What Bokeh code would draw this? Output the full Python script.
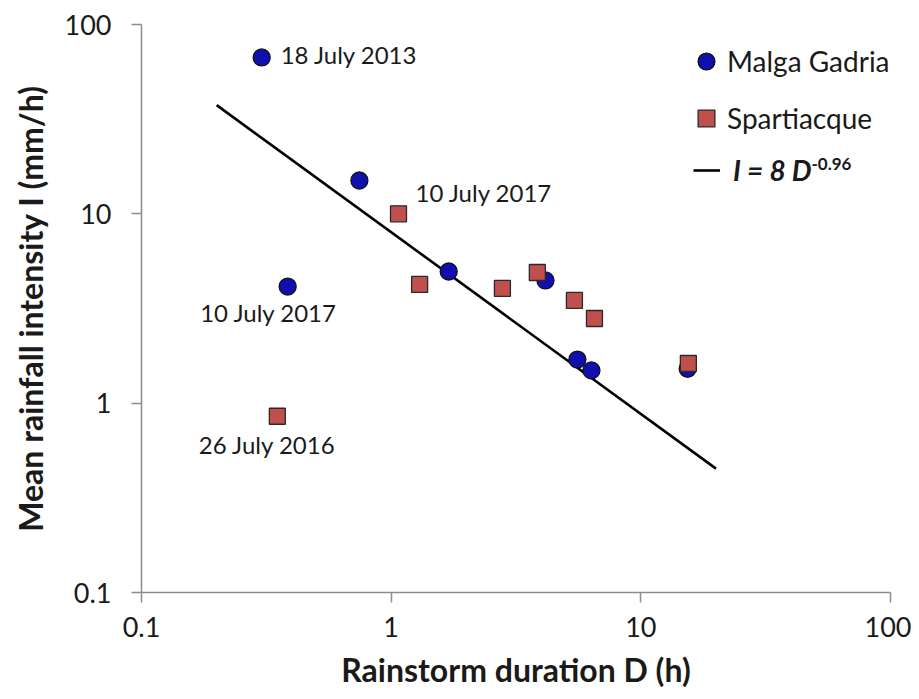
from bokeh.plotting import figure
from bokeh.models import (Legend, LegendItem, Label, FixedTicker, ColumnDataSource,
                          CustomJSTickFormatter, Range1d)
from bokeh.embed import file_html
from bokeh.resources import INLINE
from bokeh.core.properties import value

# ---------------- data ----------------
gadria_d = [0.303, 0.746, 0.385, 1.70, 4.15, 5.57, 6.34, 15.4]
gadria_i = [67.0, 15.0, 4.13, 4.96, 4.45, 1.70, 1.49, 1.52]
spart_d = [0.350, 1.07, 1.30, 2.79, 3.85, 5.42, 6.52, 15.5]
spart_i = [0.853, 10.0, 4.24, 4.04, 4.90, 3.49, 2.80, 1.62]
fit_d = [0.2, 20.0]
fit_i = [37.5, 0.451]
x_ticks = [0.1, 1, 10, 100]
y_ticks = [0.1, 1, 10, 100]
event_text = ["18 July 2013", "10 July 2017", "10 July 2017", "26 July 2016"]
event_d = [0.303, 1.07, 0.385, 0.350]
event_i = [67.0, 10.0, 4.13, 0.853]
series_names = ["Malga Gadria", "Spartiacque"]
fit_label = "I = 8 D"
fit_exponent = "-0.96"
x_title = "Rainstorm duration D (h)"
y_title = "Mean rainfall intensity I (mm/h)"

# ---------------- styles ----------------
FONT = "Lato"
event_dx = [19, 17, -19, -10]
event_dy = [-3, -21, 26, 28]
event_align = ["left", "left", "center", "center"]

p = figure(x_axis_type="log", y_axis_type="log",
           x_range=Range1d(0.1, 100), y_range=Range1d(0.1, 100),
           frame_width=749, frame_height=568,
           min_border_left=141, min_border_right=21,
           min_border_top=24, min_border_bottom=99,
           output_backend="svg", toolbar_location=None)
p.outline_line_color = None
p.xgrid.grid_line_color = None
p.ygrid.grid_line_color = None
p.background_fill_color = "white"
p.border_fill_color = "white"

fmt = CustomJSTickFormatter(code="return tick < 1 ? tick.toFixed(1) : tick.toFixed(0);")
for ax, ticks in ((p.xaxis[0], x_ticks), (p.yaxis[0], y_ticks)):
    ax.ticker = FixedTicker(ticks=ticks, minor_ticks=[])
    ax.formatter = fmt
    ax.axis_line_color = "#8c8c8c"
    ax.axis_line_width = 1.5
    ax.major_tick_line_color = "#8c8c8c"
    ax.major_tick_line_width = 1.5
    ax.major_tick_in = 0
    ax.major_tick_out = 10
    ax.minor_tick_line_color = None
    ax.major_label_text_font = FONT
    ax.major_label_text_font_size = "27px"
    ax.major_label_text_color = "#1a1a1a"
    ax.axis_label_text_font = FONT
    ax.axis_label_text_font_size = "32px"
    ax.axis_label_text_font_style = "bold"
    ax.axis_label_text_color = "#1a1a1a"
p.xaxis.major_label_standoff = 14
p.yaxis.major_label_standoff = 20
p.xaxis.axis_label = x_title
p.yaxis.axis_label = y_title
p.xaxis.axis_label_standoff = 10
p.yaxis.axis_label_standoff = 12

# fit line
fit_r = p.line(fit_d, fit_i, line_color="black", line_width=2.6)

# markers
src_g = ColumnDataSource(dict(x=gadria_d, y=gadria_i))
src_s = ColumnDataSource(dict(x=spart_d, y=spart_i))
g_r = p.scatter("x", "y", source=src_g, marker="circle", size=17,
                fill_color="#1010B0", line_color="#111111", line_width=1.3)
s_r = p.scatter("x", "y", source=src_s, marker="square", size=16,
                fill_color="#C0504D", line_color="#2a2a2a", line_width=1.3)

# event annotations
src_e = ColumnDataSource(dict(x=event_d, y=event_i, t=event_text,
                              dx=event_dx, dy=event_dy, al=event_align))
p.text("x", "y", text="t", source=src_e, x_offset="dx", y_offset="dy",
       text_align="al", text_baseline="middle",
       text_font=value(FONT), text_font_size="24px", text_color="#1a1a1a")

# legend for markers
leg = Legend(items=[LegendItem(label=series_names[0], renderers=[g_r]),
                    LegendItem(label=series_names[1], renderers=[s_r])],
             location=(544, 453), orientation="vertical",
             glyph_width=42, glyph_height=42, spacing=15, label_standoff=-4,
             padding=0, margin=0, border_line_color=None,
             background_fill_alpha=0, label_text_font=FONT,
             label_text_font_size="28px", label_text_color="#1a1a1a",
             label_height=42)
p.add_layout(leg)

# legend for fit line
leg2 = Legend(items=[LegendItem(label=fit_label, renderers=[fit_r])],
              location=(552, 405), glyph_width=27, glyph_height=30,
              label_standoff=13, padding=0, margin=0, border_line_color=None,
              background_fill_alpha=0, label_text_font=FONT,
              label_text_font_size="28px", label_text_font_style="bold italic",
              label_text_color="#1a1a1a", label_height=30)
p.add_layout(leg2)
p.add_layout(Label(x=670, y=435, x_units="screen", y_units="screen", text=fit_exponent,
                   text_font=FONT, text_font_size="17px", text_font_style="bold",
                   text_baseline="top", text_align="left", text_color="#1a1a1a"))

open("out.html", "w").write(file_html(p, INLINE))
